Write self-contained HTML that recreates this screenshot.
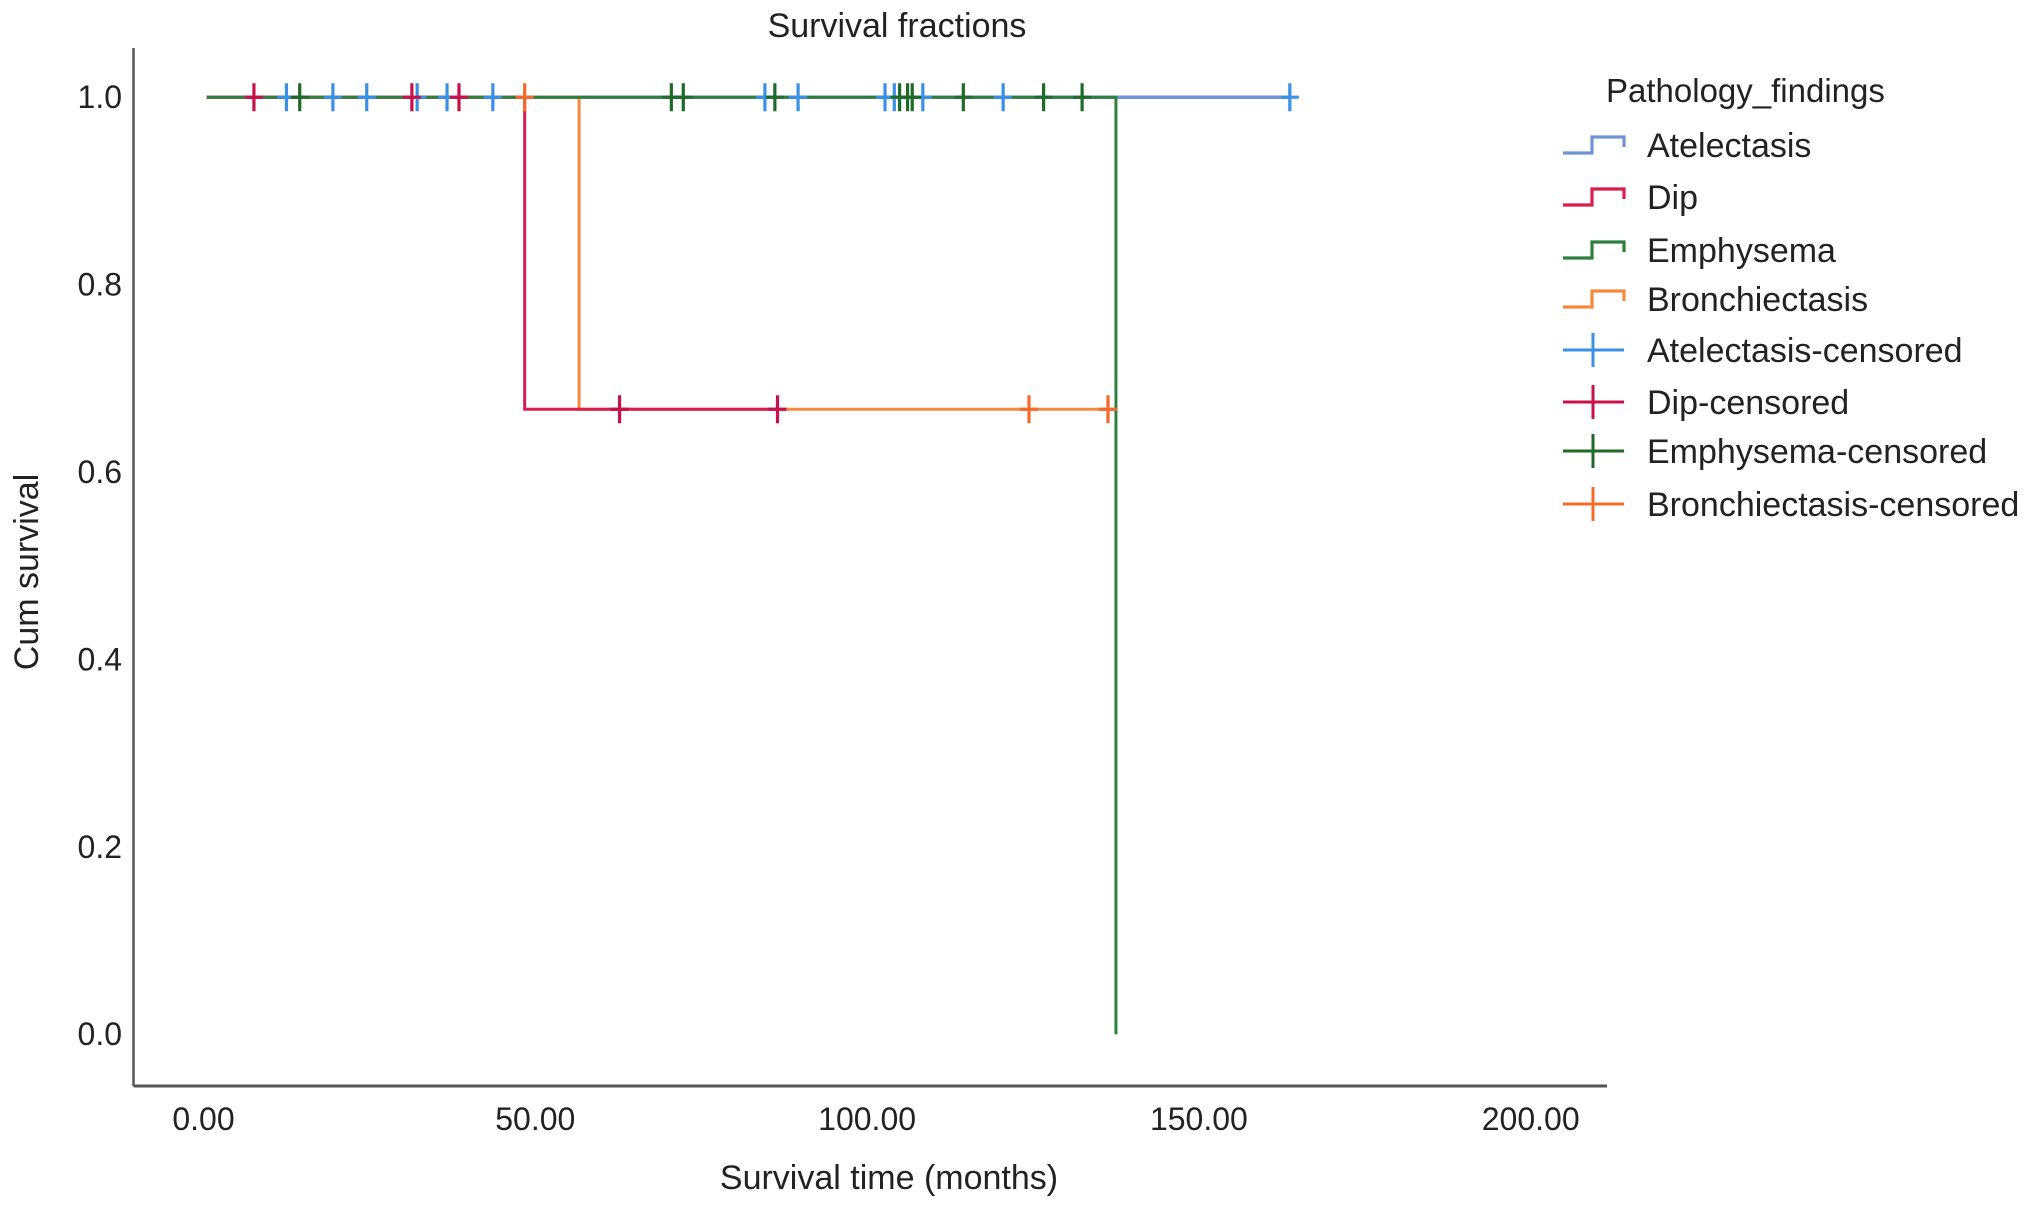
<!DOCTYPE html>
<html><head><meta charset="utf-8"><style>
html,body{margin:0;padding:0;background:#fff;}
svg{display:block;font-family:"Liberation Sans",Arial,sans-serif;}
</style></head><body>
<svg id="chart" width="2032" height="1208" viewBox="0 0 2032 1208">
<text x="897" y="37" font-size="34" text-anchor="middle" fill="#222">Survival fractions</text>
<line x1="133.5" y1="48" x2="133.5" y2="1086" stroke="#555" stroke-width="2.5"/>
<line x1="133.5" y1="1086" x2="1607" y2="1086" stroke="#555" stroke-width="3"/>
<text x="889" y="1189" font-size="34" text-anchor="middle" fill="#222">Survival time (months)</text>
<text transform="translate(38,572) rotate(-90)" font-size="34" text-anchor="middle" fill="#222">Cum survival</text>
<g id="axes"></g><g id="plot"></g><g id="legend"></g>
</svg>
<script>
const xTicks=[0,50,100,150,200];
const xTickLabels=["0.00","50.00","100.00","150.00","200.00"];
const yTicks=[0,0.2,0.4,0.6,0.8,1.0];
const yTickLabels=["0.0","0.2","0.4","0.6","0.8","1.0"];
const seriesNames=["Atelectasis","Dip","Emphysema","Bronchiectasis"];
const seriesColors=["#6f93d8","#d81e4e","#2f7f3e","#f28a3e"];
const censorColors=["#3a90e6","#c8104a","#1f6a2a","#f46a2a"];
const atelTimes=[0.5,164];const atelSurv=[1,1];
const dipTimes=[0.5,48.4,86.5];const dipSurv=[1,0.667,0.667];
const emphTimes=[0.5,137.5,137.5];const emphSurv=[1,1,0];
const bronTimes=[0.5,56.6,137.5];const bronSurv=[1,0.667,0.667];
const atelCensT=[12.5,19.5,24.6,32.2,36.7,43.6,84.6,89.6,102.7,104.1,108.4,120.5,163.7];
const atelCensS=[1,1,1,1,1,1,1,1,1,1,1,1,1];
const dipCensT=[7.6,31.4,38.5,62.7,86.5];
const dipCensS=[1,1,1,0.667,0.667];
const emphCensT=[14.5,70.5,72.3,86.1,104.9,106.1,106.8,114.5,126.6,132.4];
const emphCensS=[1,1,1,1,1,1,1,1,1,1];
const bronCensT=[48.4,124.4,136.3];
const bronCensS=[1,0.667,0.667];

const X=v=>203.5+v*6.636;
const Y=v=>1034.2-v*937;
const NS="http://www.w3.org/2000/svg";
function mk(tag,attrs,parent){const e=document.createElementNS(NS,tag);for(const k in attrs)e.setAttribute(k,attrs[k]);parent.appendChild(e);return e;}
const axes=document.getElementById('axes'),plot=document.getElementById('plot'),leg=document.getElementById('legend');
xTicks.forEach((t,i)=>{const e=mk('text',{x:X(t),y:1130,'font-size':32,'text-anchor':'middle',fill:'#222'},axes);e.textContent=xTickLabels[i];

});
yTicks.forEach((t,i)=>{const e=mk('text',{x:122,y:Y(t)+11,'font-size':32,'text-anchor':'end',fill:'#222'},axes);e.textContent=yTickLabels[i];

});
const curves=[[atelTimes,atelSurv],[dipTimes,dipSurv],[emphTimes,emphSurv],[bronTimes,bronSurv]];
const cens=[[atelCensT,atelCensS],[dipCensT,dipCensS],[emphCensT,emphCensS],[bronCensT,bronCensS]];
const order=[0,3,1,2];
order.forEach(i=>{const [t,s]=curves[i];let d='M'+X(t[0])+','+Y(s[0]);
for(let k=1;k<t.length;k++){d+=' L'+X(t[k])+','+Y(s[k-1])+' L'+X(t[k])+','+Y(s[k]);}
const p=mk('path',{d:d,fill:'none',stroke:seriesColors[i],'stroke-width':i==0?3.5:3},plot);

});
order.forEach(i=>{const [t,s]=cens[i];t.forEach((v,k)=>{const g=mk('path',{d:`M${X(v)},${Y(s[k])-14} V${Y(s[k])+14} M${X(v)-9},${Y(s[k])} H${X(v)+9}`,stroke:censorColors[i],'stroke-width':3.2,fill:'none'},plot);

});});
const lt=mk('text',{x:1606,y:102,'font-size':33,fill:'#222'},leg);lt.textContent='Pathology_findings';


const ly=[145,197,250,299,350,402,451,504];
const labels=["Atelectasis","Dip","Emphysema","Bronchiectasis","Atelectasis-censored","Dip-censored","Emphysema-censored","Bronchiectasis-censored"];
labels.forEach((l,j)=>{const y=ly[j];const i=j%4;
let ic;
if(j<4){ic=mk('path',{d:`M1563,${y+8} H1592 V${y-8} H1624 V${y+2}`,fill:'none',stroke:seriesColors[i],'stroke-width':3.2},leg);}
else{ic=mk('path',{d:`M1563,${y} H1624 M1593,${y-17} V${y+17}`,fill:'none',stroke:censorColors[i],'stroke-width':3},leg);}


const tx=mk('text',{x:1647,y:y+12,'font-size':34,fill:'#222'},leg);tx.textContent=l;

});
</script>
</body></html>
